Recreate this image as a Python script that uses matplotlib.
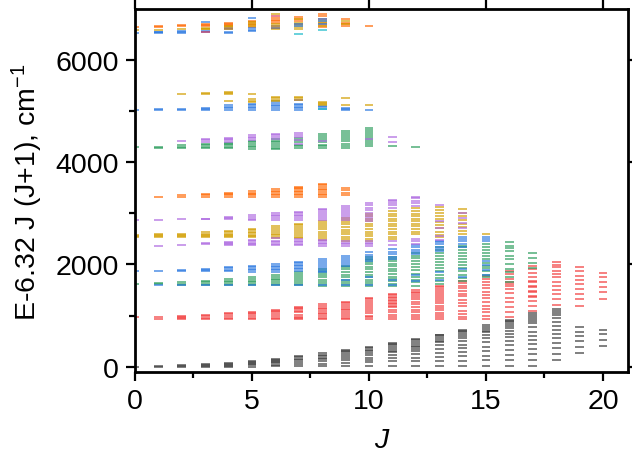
import matplotlib
matplotlib.use("Agg")
import matplotlib.pyplot as plt
from matplotlib.ticker import MultipleLocator

plt.rcParams['font.family'] = ['Liberation Sans', 'DejaVu Sans']
plt.rcParams['mathtext.fontset'] = 'custom'
plt.rcParams['mathtext.rm'] = 'Liberation Sans'
plt.rcParams['mathtext.it'] = 'Liberation Sans:italic'

# level energies, E - 6.32 J(J+1) in cm-1, keyed by J
black = {
    0: [0], 1: [0, 15], 2: [0, 15, 30], 3: [0, 20, 40, 55],
    4: [0, 20, 40, 60, 80], 5: [0, 25, 50, 75, 95, 117],
    6: [5, 33, 66, 90, 115, 135, 150], 7: [7, 53, 92, 124, 150, 180, 209],
    8: [7, 59, 105, 144, 176, 205, 235, 261],
    9: [7, 79, 124, 170, 215, 254, 280, 305, 326],
    10: [7, 85, 131, 176, 222, 274, 300, 330, 360, 384],
    11: [10, 105, 163, 222, 280, 313, 345, 380, 415, 445, 463],
    12: [10, 111, 176, 241, 300, 352, 378, 410, 445, 480, 515, 540],
    13: [10, 105, 189, 267, 352, 430, 475, 510, 545, 580, 610, 625],
    14: [10, 118, 202, 293, 365, 423, 495, 560, 605, 640, 670, 695, 716],
    15: [10, 124, 215, 306, 391, 475, 553, 625, 670, 705, 740, 775, 814],
    16: [10, 124, 235, 332, 417, 495, 573, 631, 690, 749, 801, 833, 870, 900, 918],
    17: [7, 137, 241, 345, 436, 521, 605, 684, 768, 846, 898, 935, 970, 1005, 1041],
    18: [137, 254, 358, 469, 560, 645, 723, 801, 879, 944, 1009, 1045, 1080, 1119],
    19: [267, 384, 495, 592, 684, 768],
    20: [397, 514, 631, 723],
}

red = {
    0: [963], 1: [924, 963], 2: [930, 950, 970, 989], 3: [930, 955, 985, 1009],
    4: [930, 960, 990, 1020, 1041], 5: [930, 960, 990, 1020, 1050, 1074],
    6: [930, 960, 995, 1030, 1065, 1090, 1113],
    7: [930, 950, 976, 1015, 1061, 1090, 1120, 1145, 1165],
    8: [930, 960, 990, 1020, 1055, 1090, 1120, 1155, 1190, 1223],
    9: [930, 960, 995, 1030, 1065, 1100, 1135, 1170, 1205, 1240, 1269],
    10: [930, 965, 1000, 1040, 1080, 1120, 1160, 1200, 1240, 1280, 1315, 1340],
    11: [924, 968, 1015, 1061, 1113, 1158, 1190, 1220, 1250, 1280, 1310, 1340, 1370, 1395, 1412],
    12: [924, 968, 1015, 1061, 1113, 1165, 1217, 1269, 1320, 1360, 1400, 1430, 1465, 1496],
    13: [924, 970, 1002, 1048, 1100, 1145, 1190, 1236, 1282, 1321, 1360, 1400, 1440, 1480,
         1520, 1550, 1581],
    14: [924, 976, 1028, 1093, 1178, 1243, 1308, 1373, 1418, 1483, 1530, 1581, 1630, 1679],
    15: [924, 996, 1061, 1126, 1191, 1269, 1334, 1405, 1464, 1529, 1600, 1646, 1711, 1776],
    16: [963, 1061, 1158, 1269, 1334, 1438, 1516, 1568, 1614, 1646, 1711, 1809, 1874],
    17: [1093, 1191, 1288, 1354, 1386, 1451, 1470, 1549, 1581, 1646, 1678, 1744, 1828, 1906, 1971],
    18: [1204, 1321, 1412, 1503, 1581, 1659, 1744, 1809, 1874, 1939, 1991, 2036],
    19: [1191, 1321, 1419, 1516, 1614, 1698, 1776, 1861, 1939],
    20: [1321, 1451, 1561, 1647, 1744, 1822],
}

green = {
    0: [1614], 1: [1620, 1633], 2: [1600, 1620, 1646], 3: [1600, 1625, 1650, 1679],
    4: [1600, 1625, 1650, 1680, 1711], 5: [1600, 1625, 1650, 1680, 1710, 1744],
    6: [1590, 1620, 1650, 1690, 1720, 1760, 1789],
    7: [1590, 1620, 1655, 1690, 1730, 1770, 1810, 1841],
    8: [1585, 1620, 1660, 1700, 1745, 1790, 1830, 1870, 1906],
    9: [1570, 1610, 1650, 1700, 1750, 1800, 1850, 1900, 1940, 1971],
    10: [1575, 1610, 1650, 1700, 1750, 1800, 1850, 1900, 1950, 2000, 2040, 2080, 2110, 2134],
    11: [1581, 1620, 1665, 1710, 1760, 1810, 1860, 1910, 1960, 2010, 2060, 2100, 2134],
    12: [1581, 1646, 1700, 1760, 1820, 1880, 1940, 2000, 2060, 2120, 2170, 2218],
    13: [1614, 1680, 1740, 1800, 1860, 1920, 1980, 2040, 2100, 2160, 2220, 2280, 2329],
    14: [1679, 1740, 1800, 1860, 1920, 1980, 2040, 2100, 2160, 2220, 2280, 2330, 2362],
    15: [1750, 1800, 1860, 1920, 1971, 2030, 2100, 2160, 2220, 2280, 2340, 2394],
    16: [1660, 1744, 1841, 1906, 2004, 2101, 2167, 2251, 2310, 2362, 2427],
    17: [1919, 2017, 2114, 2212],
}

blue = {
    0: [1860], 1: [1594, 1867], 2: [1594, 1867, 1893], 3: [1594, 1867, 1890, 1913],
    4: [1600, 1867, 1890, 1920, 1945], 5: [1594, 1854, 1880, 1910, 1940, 1971],
    6: [1594, 1854, 1880, 1910, 1940, 1970, 2004],
    7: [1594, 1874, 1900, 1930, 1960, 1990, 2020, 2049],
    8: [1594, 1841, 1870, 1910, 1950, 1990, 2030, 2070, 2101],
    9: [1600, 1700, 1971, 2010, 2050, 2090, 2130, 2160],
    10: [1600, 1750, 2069, 2110, 2150, 2190, 2231],
    11: [1594, 1700, 2101, 2150, 2199, 2250, 2297],
    12: [1679, 1800, 2199, 2231, 2280, 2330, 2374],
    13: [1700, 1850, 2264, 2300, 2340, 2394, 2430, 2459],
    14: [1750, 1900, 2329, 2394, 2450, 2500, 2543],
    15: [1789, 1893, 1984, 2069, 2459, 2500, 2537],
}

gold = {
    0: [2524, 2545, 2570], 1: [2524, 2545, 2570, 2589], 2: [2524, 2545, 2570, 2602],
    3: [2524, 2550, 2575, 2600, 2622], 4: [2524, 2550, 2575, 2600, 2625, 2648],
    5: [2524, 2550, 2580, 2610, 2640, 2665, 2687],
    6: [2505, 2535, 2565, 2600, 2635, 2670, 2705, 2739],
    7: [2505, 2540, 2575, 2610, 2650, 2690, 2730, 2765, 2797],
    8: [2479, 2515, 2555, 2595, 2640, 2685, 2730, 2770, 2810, 2849],
    9: [2459, 2500, 2540, 2585, 2630, 2680, 2730, 2780, 2830, 2875, 2914],
    10: [2459, 2500, 2545, 2590, 2640, 2690, 2740, 2790, 2840, 2890, 2940, 2979],
    11: [2492, 2540, 2590, 2640, 2690, 2740, 2790, 2840, 2890, 2940, 2990, 3044],
    12: [2589, 2640, 2690, 2740, 2790, 2840, 2890, 2940, 2990, 3050, 3109],
    13: [2524, 2580, 2640, 2700, 2760, 2820, 2880, 2940, 3000, 3060, 3129],
    14: [2589, 2650, 2720, 2790, 2860, 2940, 3012, 3077],
    15: [2602],
}

purple = {
    0: [2869], 1: [2362, 2869], 2: [2375, 2882], 3: [2390, 2407, 2882, 2895],
    4: [2375, 2400, 2420, 2440, 2882, 2905, 2927],
    5: [2375, 2400, 2425, 2455, 2479, 2869, 2895, 2930, 2966],
    6: [2375, 2400, 2430, 2460, 2505, 2869, 2900, 2935, 2970, 2999],
    7: [2375, 2400, 2430, 2460, 2500, 2869, 2900, 2935, 2970, 3005, 3031],
    8: [2362, 2390, 2420, 2450, 2479, 2869, 2905, 2940, 2980, 3020, 3060, 3090],
    9: [2362, 2390, 2420, 2459, 2869, 2910, 2950, 2990, 3030, 3070, 3110, 3142],
    10: [2362, 2390, 2420, 2459, 2849, 2890, 2930, 2970, 3010, 3060, 3110, 3150, 3194],
    11: [2375, 2446, 3109, 3150, 3200, 3240, 3259],
    12: [2400, 2450, 2500, 3142, 3190, 3240, 3290, 3324],
    13: [2480, 2560, 2700, 2850, 3155],
    14: [2700, 2800, 2900, 3000],
}

orange = {
    1: [3324], 2: [3324, 3350], 3: [3324, 3345, 3369], 4: [3324, 3350, 3375, 3402],
    5: [3324, 3350, 3375, 3400, 3428], 6: [3324, 3350, 3380, 3410, 3440, 3467],
    7: [3324, 3350, 3380, 3410, 3440, 3470, 3495, 3519],
    8: [3324, 3350, 3380, 3410, 3445, 3480, 3515, 3550, 3577],
    9: [3350, 3402, 3454, 3499],
}

green_hi = {
    0: [4300], 1: [4274, 4300], 2: [4274, 4300, 4326], 3: [4274, 4300, 4325, 4345],
    4: [4274, 4300, 4325, 4350, 4378], 5: [4261, 4290, 4320, 4350, 4380, 4410],
    6: [4248, 4280, 4310, 4345, 4380, 4410, 4443],
    7: [4280, 4310, 4340, 4380, 4420, 4460],
    8: [4280, 4310, 4340, 4380, 4420, 4460, 4500, 4540],
    9: [4280, 4320, 4360, 4400, 4440, 4480, 4520, 4560, 4599],
    10: [4313, 4350, 4390, 4430, 4470, 4510, 4550, 4590, 4630, 4670],
    11: [4313], 12: [4300],
}

purple_hi = {
    2: [4404], 3: [4391, 4420, 4443], 4: [4391, 4420, 4450, 4475],
    5: [4430, 4460, 4490, 4521], 6: [4456, 4490, 4520, 4553],
    7: [4350, 4420, 4495, 4530, 4560], 8: [4410], 10: [4440], 11: [4391, 4495],
}

blue_hi = {
    0: [5021], 1: [5021, 5040], 2: [5021, 5040], 3: [5021, 5040, 5060],
    4: [5021, 5045, 5075, 5106], 5: [5021, 5050, 5080, 5110, 5138],
    6: [5021, 5050, 5085, 5120, 5155, 5190], 7: [5021, 5050, 5080, 5110, 5138],
    8: [5040, 5070, 5090], 9: [5015, 5035, 5060], 10: [5015],
}

gold_hi = {
    2: [5327], 3: [5320, 5353], 4: [5184, 5320, 5345, 5372], 5: [5177, 5200, 5223, 5333],
    6: [5190, 5215, 5240, 5268], 7: [5210, 5240, 5270], 8: [5106, 5130, 5150, 5177],
    9: [5112, 5242], 10: [5106],
}

orange_top = {
    0: [6640], 1: [6634, 6653], 2: [6647, 6666], 3: [6647, 6670, 6699],
    4: [6653, 6680, 6700, 6718], 5: [6640, 6670, 6700, 6730, 6760],
    6: [6718, 6745, 6770, 6803], 7: [6700, 6750, 6800, 6835],
    8: [6634, 6680, 6720, 6800, 6848, 6894], 9: [6653, 6690, 6720, 6783], 10: [6653],
}

gold_top = {
    0: [6582], 1: [6582], 2: [6595], 3: [6588, 6605, 6621], 4: [6600, 6630, 6660],
    5: [6650, 6690, 6730], 6: [6588, 6650, 6690, 6894], 7: [6588, 6630, 6680, 6720, 6783],
    8: [6660, 6720, 6760], 9: [6700, 6750],
}

blue_top = {
    0: [6523], 1: [6517, 6530, 6543], 2: [6517, 6535, 6556], 3: [6545, 6560, 6738],
    4: [6523, 6545], 5: [6556, 6580, 6608, 6803], 6: [6620], 7: [6650, 6700],
    8: [6700, 6750, 6800],
}

teal_top = {7: [6504], 8: [6582, 5028]}
red_top = {3: [6530], 6: [6842]}
brown_top = {4: [6595, 6620], 6: [6620, 6650], 7: [5216]}

bands = [
    (black, '#3a3a3a'), (red, '#f23c3c'), (green, '#2a9c5c'), (blue, '#2a78e0'),
    (gold, '#d29e00'), (purple, '#ad68e0'), (orange, '#ff6600'),
    (green_hi, '#2a9c5c'), (purple_hi, '#ad68e0'), (blue_hi, '#2a78e0'),
    (gold_hi, '#d29e00'), (orange_top, '#ff6600'), (gold_top, '#d29e00'),
    (blue_top, '#2a78e0'), (teal_top, '#18b8c8'), (red_top, '#e0405a'),
    (brown_top, '#a07850'),
]

fig = plt.figure(figsize=(6.32, 4.56), dpi=100)
ax = fig.add_axes([0.2136, 0.1813, 0.7805, 0.797])

half = 0.19
for data, col in bands:
    for J, levels in data.items():
        ax.hlines(levels, J - half, J + half, colors=col, lw=1.3, alpha=0.7)

ax.set_xlim(0, 21.08)
ax.set_ylim(-110, 6990)
ax.xaxis.set_major_locator(MultipleLocator(5))
ax.xaxis.set_minor_locator(MultipleLocator(2.5))
ax.yaxis.set_major_locator(MultipleLocator(2000))
ax.yaxis.set_minor_locator(MultipleLocator(1000))

for s in ax.spines.values():
    s.set_linewidth(2.0)
ax.tick_params(which='both', direction='out', width=1.6, labelsize=20.5, pad=5)
ax.tick_params(which='major', length=6.5)
ax.tick_params(which='minor', length=4)
ax.tick_params(top=True, right=True, which='major')

fig.text(27 / 632, 1 - 192 / 456, 'E-6.32 J (J+1), cm$^{-1}$', rotation=90,
         ha='center', va='center', fontsize=20.5)
fig.text(381.7 / 632, 1 - 441 / 456, 'J', style='italic', ha='center', va='center',
         fontsize=20.5)

fig.savefig('out.png', dpi=100)
